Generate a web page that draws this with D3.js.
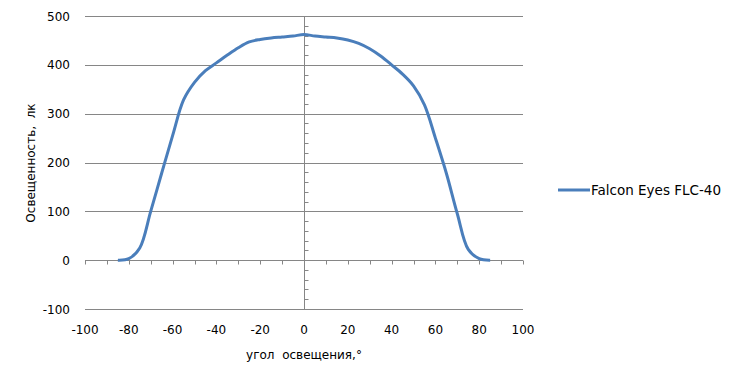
<!DOCTYPE html>
<html><head><meta charset="utf-8">
<script src="https://cdn.jsdelivr.net/npm/d3@7"></script>
<style>body{margin:0;background:#fff}svg{display:block}text{font-family:"DejaVu Sans",sans-serif;fill:#000}</style>
</head><body><svg id="c" width="735" height="382"></svg>
<script>
const angles = [-85,-80,-75,-70,-65,-60,-55,-50,-45,-40,-35,-30,-25,-20,-15,-10,-5,0,5,10,15,20,25,30,35,40,45,50,55,60,65,70,75,80,85];
const lux = [0,3,25,100,178,255,328,364,388,404,420,435,447,452,455,457,459,462,459,457,455,451,444,433,418,400,381,357,318,250,178,95,22,3,0];
const xTicks = [-100,-80,-60,-40,-20,0,20,40,60,80,100];
const yTicks = [-100,0,100,200,300,400,500];
const seriesName = "Falcon Eyes FLC-40";
const xTitle = "угол  освещения,°";
const yTitle = "Освещенность,  лк";

const svg = d3.select("#c");
const x = d3.scaleLinear().domain([-100,100]).range([85,523]);
const y = d3.scaleLinear().domain([-100,500]).range([309,16]);
const grid = "#868686";

svg.append("g").selectAll("line").data(yTicks).join("line")
  .attr("x1",x(-100)).attr("x2",x(100)).attr("y1",d=>Math.round(y(d))+0.5).attr("y2",d=>Math.round(y(d))+0.5)
  .attr("stroke",grid).attr("stroke-width",1);
svg.append("line").attr("x1",Math.round(x(0))+0.5).attr("x2",Math.round(x(0))+0.5).attr("y1",y(500)).attr("y2",y(-100)).attr("stroke",grid);
svg.append("g").selectAll("line").data(d3.range(-100,500,20).filter(v=>v%100!==0)).join("line")
  .attr("x1",Math.round(x(0))+0.5).attr("x2",Math.round(x(0))+4.5)
  .attr("y1",d=>Math.round(y(d))+0.5).attr("y2",d=>Math.round(y(d))+0.5).attr("stroke",grid);
svg.append("g").selectAll("line").data(d3.range(-100,101,10).filter(v=>v!==0)).join("line")
  .attr("x1",d=>Math.round(x(d))+0.5).attr("x2",d=>Math.round(x(d))+0.5)
  .attr("y1",Math.round(y(0))+0.5).attr("y2",Math.round(y(0))+4.5).attr("stroke",grid);

svg.append("g").selectAll("text").data(yTicks).join("text")
  .attr("x",70).attr("y",d=>y(d)+4.5).attr("text-anchor","end").attr("font-size",12).text(d=>d);
svg.append("g").selectAll("text").data(xTicks).join("text")
  .attr("x",d=>x(d)).attr("y",334).attr("text-anchor","middle").attr("font-size",12).text(d=>d);

svg.append("text").attr("x",304).attr("y",359).attr("text-anchor","middle").attr("font-size",12).attr("xml:space","preserve").text(xTitle);
svg.append("text").attr("transform","translate(35,163) rotate(-90)").attr("text-anchor","middle").attr("font-size",12).attr("xml:space","preserve").text(yTitle);

const line = d3.line().x((d,i)=>x(angles[i])).y(d=>y(d)).curve(d3.curveCatmullRom.alpha(0.5));
svg.append("path").datum(lux).attr("d",line).attr("fill","none").attr("stroke","#4a7ebb").attr("stroke-width",3).attr("stroke-linejoin","round");

svg.append("line").attr("x1",558).attr("x2",590).attr("y1",190).attr("y2",190).attr("stroke","#4a7ebb").attr("stroke-width",3);
svg.append("text").attr("x",591).attr("y",195).attr("font-size",13.5).text(seriesName);
</script></body></html>
